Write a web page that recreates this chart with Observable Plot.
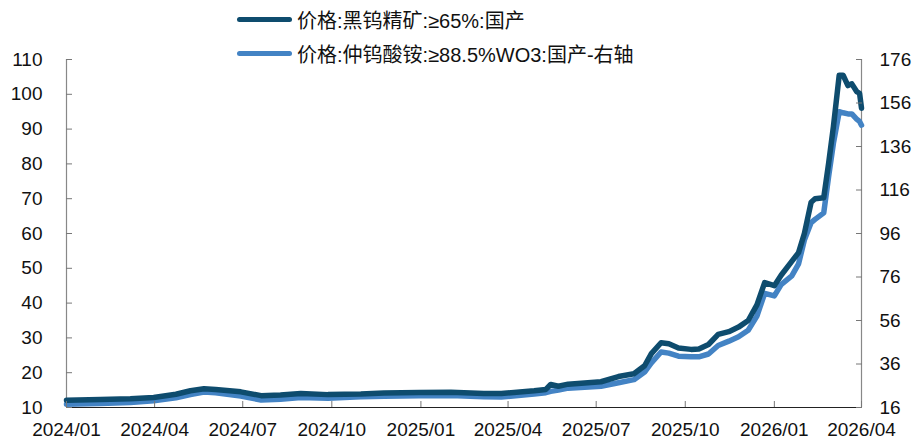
<!DOCTYPE html>
<html><head><meta charset="utf-8">
<script src="https://cdn.jsdelivr.net/npm/d3@7"></script>
<script src="https://cdn.jsdelivr.net/npm/@observablehq/plot@0.6"></script>
<style>
body{margin:0;background:#fff;}
#wrap{position:relative;width:912px;height:439px;font-family:"Liberation Sans","Noto Sans CJK SC",sans-serif;}
.leg{position:absolute;left:237px;height:24px;display:flex;align-items:center;font-size:20px;color:#111;white-space:nowrap;}
.leg .sw{display:inline-block;width:55px;height:5px;border-radius:3px;margin-right:5px;}
</style></head><body><div id="wrap"></div>
<script>
const dates = ["2024-01-01","2024-02-05","2024-03-07","2024-03-31","2024-04-23","2024-05-08","2024-05-22","2024-06-03","2024-06-29","2024-07-20","2024-08-09","2024-08-30","2024-09-27","2024-10-31","2024-11-24","2024-12-30","2025-02-01","2025-03-07","2025-03-25","2025-04-28","2025-05-10","2025-05-15","2025-05-23","2025-06-02","2025-07-06","2025-07-24","2025-08-09","2025-08-20","2025-08-27","2025-09-06","2025-09-14","2025-09-24","2025-10-07","2025-10-15","2025-10-25","2025-11-04","2025-11-15","2025-11-25","2025-12-05","2025-12-14","2025-12-22","2026-01-01","2026-01-08","2026-01-19","2026-01-26","2026-02-01","2026-02-08","2026-02-12","2026-02-21","2026-02-26","2026-03-03","2026-03-09","2026-03-13","2026-03-18","2026-03-22","2026-03-27","2026-03-30","2026-04-01"];
// 黑钨精矿 (left axis)
const concentrate = [12.1,12.3,12.5,12.9,13.8,14.8,15.4,15.2,14.5,13.4,13.6,14.0,13.7,13.9,14.2,14.3,14.4,14.0,14.0,14.8,15.2,16.6,16.1,16.7,17.4,18.9,19.7,22.0,25.5,28.6,28.3,27.1,26.7,26.8,28.1,31.0,31.8,33.1,35.0,39.5,45.9,45.0,48.0,52.0,54.5,60.0,69.0,70.0,70.3,80.1,90.7,105.5,105.5,102.5,103.0,100.8,100.3,96.0];
// 仲钨酸铵 (right axis)
const apt = [17.5,17.8,18.3,19.1,20.5,22.0,23.1,22.8,21.3,19.4,19.8,20.6,20.3,20.9,21.2,21.4,21.5,20.9,20.8,22.2,22.8,23.4,24.0,24.9,25.8,27.4,28.8,32.3,36.5,41.5,41.0,39.6,39.3,39.3,40.6,44.5,46.5,48.5,51.5,58.0,68.5,67.3,72.5,76.5,82.0,93.0,101.0,102.5,105.5,122.0,137.5,152.0,151.5,151.0,151.0,148.6,147.5,145.8];
const leftTicks = [10,20,30,40,50,60,70,80,90,100,110];
const rightTicks = [16,36,56,76,96,116,136,156,176];
const xTickLabels = ["2024/01","2024/04","2024/07","2024/10","2025/01","2025/04","2025/07","2025/10","2026/01","2026/04"];
const seriesNames = ["价格:黑钨精矿:≥65%:国产","价格:仲钨酸铵:≥88.5%WO3:国产-右轴"];
const colors = ["#0E4C6E","#4383C4"];

const leftDomain = [10,110], rightDomain = [16,176];
const toLeft = v => leftDomain[0] + (v - rightDomain[0]) * (leftDomain[1]-leftDomain[0]) / (rightDomain[1]-rightDomain[0]);
const toRight = v => Math.round(rightDomain[0] + (v - leftDomain[0]) * (rightDomain[1]-rightDomain[0]) / (leftDomain[1]-leftDomain[0]));
const parseLabel = s => new Date(s.replace("/", "-") + "-01T00:00:00Z");
const xTicks = xTickLabels.map(parseLabel);
const xDomain = [xTicks[0], xTicks[xTicks.length-1]];

const rows = dates.map((d,i) => ({date: new Date(d + "T00:00:00Z"), c: concentrate[i], a: toLeft(apt[i])}));
const font = '"Liberation Sans","Noto Sans CJK SC",sans-serif';

const chart = Plot.plot({
  width: 912, height: 439,
  marginLeft: 66, marginRight: 51, marginTop: 59, marginBottom: 32,
  style: {fontFamily: font, fontSize: "19px", background: "#fff", color: "#111"},
  x: {type: "utc", domain: xDomain},
  y: {domain: leftDomain},
  marks: [
    Plot.ruleX([xDomain[0]], {stroke: "#888", strokeWidth: 1.2}),
    Plot.ruleX([xDomain[1]], {stroke: "#888", strokeWidth: 1.2}),
    Plot.line(rows, {x: "date", y: "a", stroke: colors[1], strokeWidth: 5.5, strokeLinejoin: "round", strokeLinecap: "round"}),
    Plot.line(rows, {x: "date", y: "c", stroke: colors[0], strokeWidth: 5.5, strokeLinejoin: "round", strokeLinecap: "round"}),
    Plot.ruleY([leftDomain[0]], {stroke: "#222", strokeWidth: 1.2}),
    Plot.axisY(leftTicks, {anchor: "left", tickSize: 6, dx: 6, tickPadding: 24, label: null, fontSize: 19, stroke: "#777", fill: "#111"}),
    Plot.axisY(rightTicks.map(toLeft), {anchor: "right", tickSize: 6, dx: -6, tickPadding: 18, label: null, fontSize: 19, tickFormat: toRight, stroke: "#777", fill: "#111"}),
    Plot.axisX(xTicks, {anchor: "bottom", tickSize: 6, dy: -6, tickPadding: 15, label: null, fontSize: 19, tickFormat: d3.utcFormat("%Y/%m"), stroke: "#777", fill: "#111"})
  ]
});
const wrap = document.getElementById("wrap");
wrap.appendChild(chart);
const tops = [7, 41];
seriesNames.forEach((name, i) => {
  const div = document.createElement("div");
  div.className = "leg";
  div.style.top = tops[i] + "px";
  const sw = document.createElement("span");
  sw.className = "sw";
  sw.style.background = colors[i];
  div.appendChild(sw);
  div.appendChild(document.createTextNode(name));
  wrap.appendChild(div);
});
</script></body></html>
